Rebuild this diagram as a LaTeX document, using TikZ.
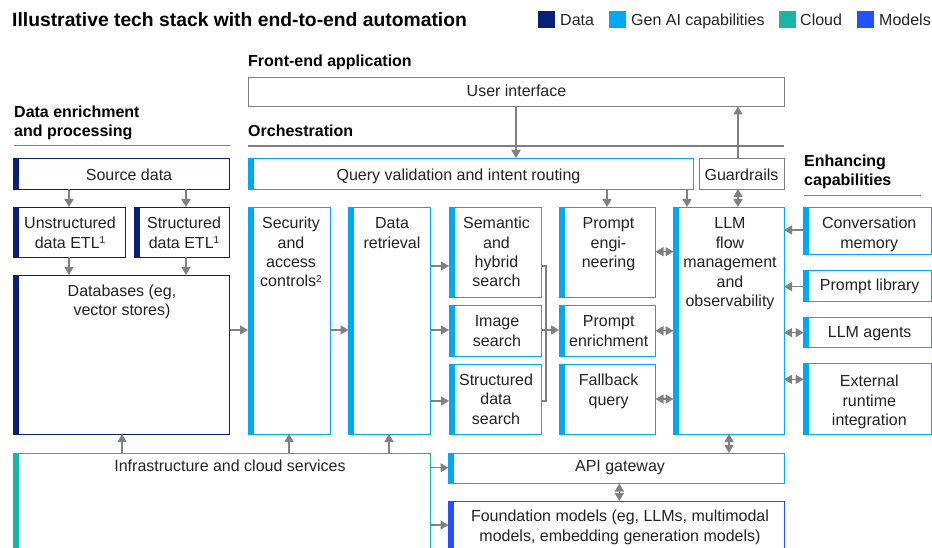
\documentclass[tikz,border=0pt]{standalone}
\usepackage{fontspec}
\setmainfont{Liberation Sans}
\usetikzlibrary{arrows.meta}

\definecolor{navy}{HTML}{0A1F78}
\definecolor{genai}{HTML}{00A9F4}
\definecolor{cloud}{HTML}{19B5A5}
\definecolor{models}{HTML}{2251FF}
\definecolor{connector}{HTML}{808080}
\definecolor{frame}{HTML}{7F7F7F}
\definecolor{ink}{HTML}{222222}

\tikzset{
  boxframe/.style={draw, line width=0.9pt, inner sep=0pt, outer sep=0pt, anchor=north west},
  boxtext/.style={font=\fontsize{16}{19.5}\selectfont, text=ink, inner sep=0pt, align=center, anchor=north},
  sectionhead/.style={font=\fontsize{16}{19}\selectfont\bfseries, text=black, inner sep=0pt, align=left},
  titletext/.style={font=\fontsize{19.3}{23}\selectfont\bfseries, text=black, inner sep=0pt},
  legendtext/.style={font=\fontsize{16}{19}\selectfont, text=ink, inner sep=0pt, anchor=base west},
  swatch/.style={minimum size=17pt, inner sep=0pt, outer sep=0pt, anchor=north west},
  tip/.tip={Triangle[length=8pt,width=9pt]},
  arrowline/.style={draw=connector, line width=1.3pt, -tip},
  twoway/.style={draw=connector, line width=1.3pt, tip-tip},
  plainline/.style={draw=connector, line width=1.3pt},
  seprule/.style={draw=frame, line width=1.1pt},
}

% small raised note number
\newcommand\notemark[1]{\raisebox{4.6pt}{\fontsize{10}{10}\selectfont #1}}
% box with a coloured bar on its left: name, x1, y1, x2, y2, frame colour, bar colour
\newcommand\barbox[7]{%
  \node[boxframe, draw=#6, minimum width=#4pt-#2pt, minimum height=#5pt-#3pt] (#1) at (#2,#3) {};
  \fill[#7] (#1.north west) rectangle ([xshift=5.5pt]#1.south west);}
% text inside a box: name, centre x, first baseline, text
\newcommand\boxlabel[4]{%
  \node[boxtext] (#1) at (#2,#3-13.65) {\strut #4};}

\begin{document}
\begin{tikzpicture}[x=1pt,y=-1pt]
\useasboundingbox (0,0) rectangle (932,548);
\clip (0,0) rectangle (932,548);

% title and legend
\node[titletext, anchor=base west] (title) at (12,26.7) {Illustrative tech stack with end-to-end automation};
\node[swatch, fill=navy] (swdata) at (538,10.7) {};
\node[legendtext] (lgdata) at (560,26) {Data};
\node[swatch, fill=genai] (swgenai) at (609.3,10.7) {};
\node[legendtext] (lggenai) at (631,26) {Gen AI capabilities};
\node[swatch, fill=cloud] (swcloud) at (779,10.7) {};
\node[legendtext] (lgcloud) at (800,26) {Cloud};
\node[swatch, fill=models] (swmodels) at (857,10.7) {};
\node[legendtext] (lgmodels) at (879,26) {Models};

% section headings
\node[sectionhead, anchor=base west] (hfront) at (248,66.7) {Front-end application};
\node[sectionhead, anchor=north west] (hdata) at (14,117.3-13.3) {\strut Data enrichment\\and processing};
\node[sectionhead, anchor=base west] (horch) at (248,136.7) {Orchestration};
\node[sectionhead, anchor=north west] (henh) at (804,166.7-13.3) {\strut Enhancing\\capabilities};
\draw[seprule] (14,145.7) -- (229.5,145.7);
\draw[seprule] (248,146) -- (784,146);
\draw[seprule] (804,195.7) -- (920.7,195.7);

% front end
\node[boxframe, draw=frame, minimum width=536pt, minimum height=29.5pt] (ui) at (248,77) {};
\boxlabel{uit}{516.5}{96.7}{User interface}

% data enrichment and processing
\barbox{src}{13.5}{158}{229.5}{189}{navy}{navy}
\boxlabel{srct}{129}{180}{Source data}
\barbox{unstr}{13.5}{207}{125}{257}{navy}{navy}
\boxlabel{unstrt}{70}{228.3}{Unstructured\\data ETL\notemark{1}}
\barbox{str}{134}{207}{229.5}{257}{navy}{navy}
\boxlabel{strt}{184}{228.3}{Structured\\data ETL\notemark{1}}
\barbox{db}{13.5}{275}{229.5}{434}{navy}{navy}
\boxlabel{dbt}{122}{296}{Databases (eg,\\vector stores)}

% orchestration
\barbox{query}{248}{158}{693.5}{189}{genai}{genai}
\boxlabel{queryt}{458.5}{180}{Query validation and intent routing}
\node[boxframe, draw=frame, minimum width=85pt, minimum height=31pt] (guard) at (699,158) {};
\boxlabel{guardt}{741.5}{180}{Guardrails}

\barbox{sec}{248}{207}{330}{434}{genai}{genai}
\boxlabel{sect}{291}{228.3}{Security\\and\\access\\controls\notemark{2}}
\barbox{dr}{348.5}{207}{430.5}{434}{genai}{genai}
\boxlabel{drt}{392}{228.3}{Data\\retrieval}
\barbox{sem}{449}{207}{541}{297}{genai}{genai}
\boxlabel{semt}{496.5}{228.3}{Semantic\\and\\hybrid\\search}
\barbox{img}{449}{305.5}{541}{356}{genai}{genai}
\boxlabel{imgt}{497}{326.7}{Image\\search}
\barbox{sds}{449}{364}{541}{434}{genai}{genai}
\boxlabel{sdst}{496}{385}{Structured\\data\\search}
\barbox{peng}{559}{207}{655.5}{297}{genai}{genai}
\boxlabel{pengt}{608.5}{228.3}{Prompt\\engi-\\neering}
\barbox{penr}{559}{305.5}{655.5}{356}{genai}{genai}
\boxlabel{penrt}{608.7}{326.7}{Prompt\\enrichment}
\barbox{fb}{559}{364}{655.5}{434}{genai}{genai}
\boxlabel{fbt}{608.7}{385.7}{Fallback\\query}
\barbox{llm}{673.5}{207}{784}{434}{genai}{genai}
\boxlabel{llmt}{730}{228.3}{LLM\\flow\\management\\and\\observability}

% enhancing capabilities
\barbox{conv}{803.5}{207}{931}{254}{genai}{genai}
\boxlabel{convt}{869.2}{228.3}{Conversation\\memory}
\barbox{plib}{803.5}{270}{931}{301}{genai}{genai}
\boxlabel{plibt}{869.7}{290.7}{Prompt library}
\barbox{agents}{803.5}{317}{931}{347.5}{genai}{genai}
\boxlabel{agentst}{869.7}{337.3}{LLM agents}
\barbox{ext}{803.5}{363.5}{931}{434}{genai}{genai}
\boxlabel{extt}{869.3}{386.7}{External\\runtime\\integration}

% infrastructure and models
\barbox{infra}{13.5}{453}{430.5}{560}{cloud}{cloud}
\boxlabel{infrat}{230}{471.7}{Infrastructure and cloud services}
\barbox{api}{448.5}{453}{784}{483.5}{genai}{genai}
\boxlabel{apit}{620}{471.7}{API gateway}
\barbox{fm}{448.5}{501}{784}{560}{models}{models}
\boxlabel{fmt}{620}{521.7}{Foundation models (eg, LLMs, multimodal\\models, embedding generation models)}

% connectors
\draw[arrowline] (ui.south) -- (ui.south |- query.north);
\draw[arrowline] (guard.north -| 738,0) -- (ui.south -| 738,0);
\draw[arrowline] (query.south -| 607,0) -- (peng.north -| 607,0);
\draw[arrowline] (query.south -| 687,0) -- (llm.north -| 687,0);
\draw[twoway] (guard.south -| 738,0) -- (llm.north -| 738,0);

\draw[arrowline] (src.south -| 69,0) -- (unstr.north -| 69,0);
\draw[arrowline] (src.south -| 186,0) -- (str.north -| 186,0);
\draw[arrowline] (unstr.south -| 69,0) -- (db.north -| 69,0);
\draw[arrowline] (str.south -| 186,0) -- (db.north -| 186,0);

\draw[arrowline] (db.east |- 0,330) -- (sec.west |- 0,330);
\draw[arrowline] (sec.east |- 0,330) -- (dr.west |- 0,330);
\draw[arrowline] (dr.east |- 0,266) -- (sem.west |- 0,266);
\draw[arrowline] (dr.east |- 0,330) -- (img.west |- 0,330);
\draw[arrowline] (dr.east |- 0,401) -- (sds.west |- 0,401);

\draw[plainline] (sem.east |- 0,266) -- ++(5,0) |- (sds.east |- 0,401);
\draw[arrowline] (img.east |- 0,330) -- (penr.west |- 0,330);

\draw[twoway] (peng.east |- 0,251.7) -- (llm.west |- 0,251.7);
\draw[twoway] (penr.east |- 0,330.7) -- (llm.west |- 0,330.7);
\draw[twoway] (fb.east |- 0,399) -- (llm.west |- 0,399);

\draw[arrowline] (conv.west |- 0,230) -- (llm.east |- 0,230);
\draw[arrowline] (plib.west |- 0,286.7) -- (llm.east |- 0,286.7);
\draw[twoway] (agents.west |- 0,332.7) -- (llm.east |- 0,332.7);
\draw[twoway] (ext.west |- 0,379.3) -- (llm.east |- 0,379.3);

\draw[twoway] (llm.south -| 729,0) -- (api.north -| 729,0);
\draw[twoway] (api.south -| 619.3,0) -- (fm.north -| 619.3,0);

\draw[arrowline] (infra.north -| 122,0) -- (db.south -| 122,0);
\draw[arrowline] (infra.north -| 289,0) -- (sec.south -| 289,0);
\draw[arrowline] (infra.north -| 389,0) -- (dr.south -| 389,0);
\draw[arrowline] (infra.east |- 0,467.7) -- (api.west |- 0,467.7);
\draw[arrowline] (infra.east |- 0,525) -- (fm.west |- 0,525);
\end{tikzpicture}
\end{document}
